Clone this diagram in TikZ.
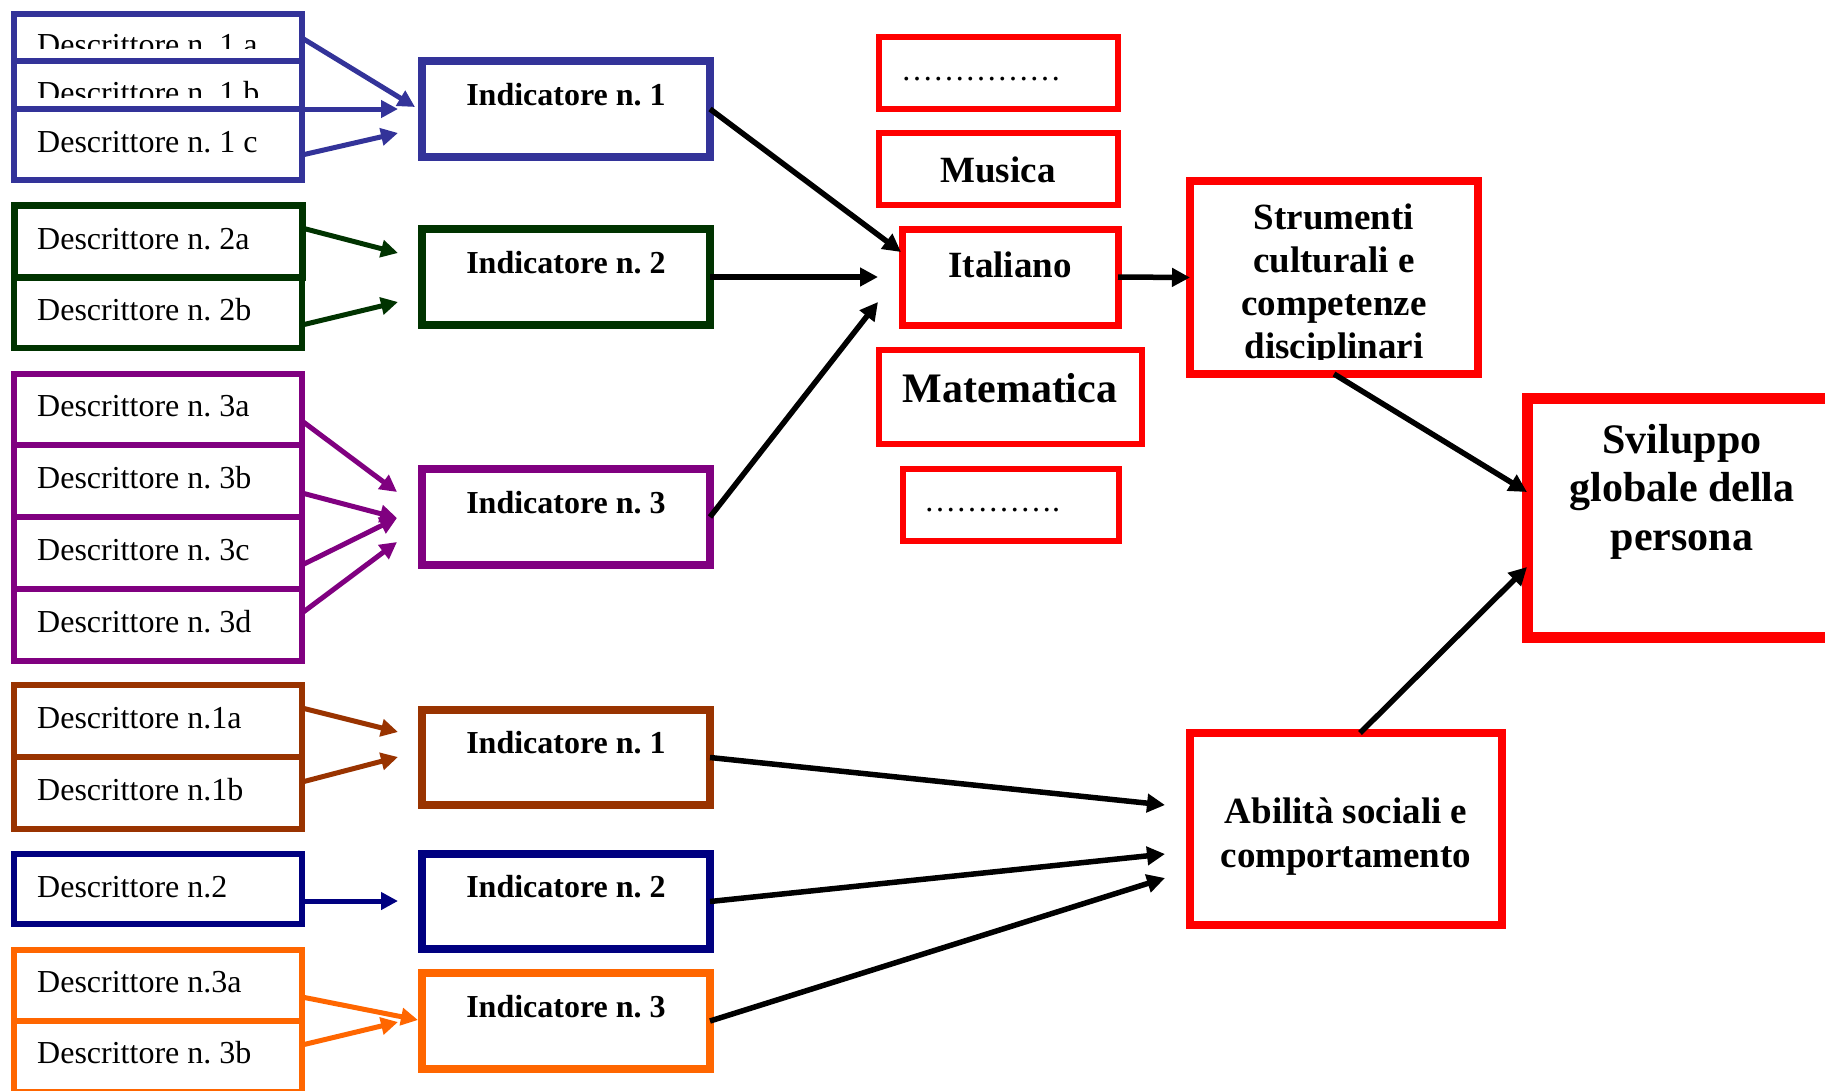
\documentclass[tikz,border=0pt]{standalone}
\usepackage{fontspec}
\setmainfont{Liberation Serif}
\usetikzlibrary{arrows.meta}
\frenchspacing
\definecolor{cblue}{RGB}{51,51,153}
\definecolor{cgreen}{RGB}{0,51,0}
\definecolor{cpurple}{RGB}{128,0,128}
\definecolor{cbrown}{RGB}{153,51,0}
\definecolor{cnavy}{RGB}{0,0,128}
\definecolor{corange}{RGB}{255,102,0}
\definecolor{cred}{RGB}{255,0,0}
\tikzset{
  box/.style={draw, rectangle, inner sep=0pt, outer sep=0pt, fill=white},
  dbox/.style={box, draw=#1, line width=5.5pt, minimum width=288pt},
  ibox/.style={box, draw=#1, line width=8pt, minimum width=288pt, minimum height=96pt},
  rbox/.style={box, draw=cred, line width=6pt},
  dtext/.style={anchor=base west, inner sep=0pt, font=\fontsize{32}{38}\selectfont},
  itext/.style={anchor=base, inner sep=0pt, font=\fontsize{32}{38}\selectfont\bfseries},
  rtext/.style={anchor=base, inner sep=0pt, font=\fontsize{#1}{#1}\selectfont\bfseries},
  mtext/.style={anchor=base, inner sep=0pt},
  carr/.style={draw=#1, line width=5pt, -{Triangle[length=17pt,width=17pt]}},
  barr/.style={draw=black, line width=5.5pt, -{Triangle[length=18pt,width=18pt]}}
}
\begin{document}
\begin{tikzpicture}[x=1pt,y=-1pt]
\clip (0,0) rectangle (1825,1090);
\fill[white] (0,0) rectangle (1825,1090);

% ---- blue descriptors
\node[dbox=cblue, minimum height=47pt] (d1a) at (158,37.5) {};
\node[dbox=cblue, minimum height=48pt] (d1b) at (158,85) {};
\node[dbox=cblue, minimum height=71pt] (d1c) at (158,144.5) {};
\begin{scope}
\clip (14,14) rectangle (302,48);
\node[dtext] (t1a) at (37,55) {Descrittore n. 1 a};
\end{scope}
\begin{scope}
\clip (14,61) rectangle (302,97);
\node[dtext] (t1b) at (37,103) {Descrittore n. 1 b};
\end{scope}
\node[dtext] (t1c) at (37,152) {Descrittore n. 1 c};

% ---- green descriptors
\node[dbox=cgreen, minimum height=71pt] (d2b) at (158,312.5) {};
\node[dbox=cgreen, line width=7pt, minimum height=72pt] (d2a) at (158,241) {};
\node[dtext] (t2a) at (37,249) {Descrittore n. 2a};
\node[dtext] (t2b) at (37,320) {Descrittore n. 2b};

% ---- purple descriptors
\node[dbox=cpurple, line width=6pt, minimum height=71pt] (d3a) at (158,409.5) {};
\node[dbox=cpurple, line width=6pt, minimum height=72pt] (d3b) at (158,481) {};
\node[dbox=cpurple, line width=6pt, minimum height=72pt] (d3c) at (158,553) {};
\node[dbox=cpurple, line width=6pt, minimum height=72pt] (d3d) at (158,625) {};
\node[dtext] (t3a) at (37,416) {Descrittore n. 3a};
\node[dtext] (t3b) at (37,488) {Descrittore n. 3b};
\node[dtext] (t3c) at (37,560) {Descrittore n. 3c};
\node[dtext] (t3d) at (37,632) {Descrittore n. 3d};

% ---- brown descriptors
\node[dbox=cbrown, line width=6pt, minimum height=72pt] (d4a) at (158,721) {};
\node[dbox=cbrown, line width=6pt, minimum height=72pt] (d4b) at (158,793) {};
\node[dtext] (t4a) at (37,728) {Descrittore n.1a};
\node[dtext] (t4b) at (37,800) {Descrittore n.1b};

% ---- navy descriptor
\node[dbox=cnavy, line width=6pt, minimum height=70pt] (d5) at (158,889) {};
\node[dtext] (t5) at (37,897) {Descrittore n.2};

% ---- orange descriptors
\node[dbox=corange, line width=6pt, minimum height=71pt] (d6a) at (158,985.5) {};
\node[dbox=corange, line width=6pt, minimum height=71pt] (d6b) at (158,1056.5) {};
\node[dtext] (t6a) at (37,992) {Descrittore n.3a};
\node[dtext] (t6b) at (37,1063) {Descrittore n. 3b};

% ---- indicators
\node[ibox=cblue] (ib1) at (566,109) {};
\node[ibox=cgreen] (ig2) at (566,277) {};
\node[ibox=cpurple] (ip3) at (566,517) {};
\node[ibox=cbrown, minimum height=95pt] (ir1) at (566,757.5) {};
\node[ibox=cnavy, minimum height=95pt] (in2) at (566,901.5) {};
\node[ibox=corange] (io3) at (566,1021) {};
\node[itext] (tib1) at (566,105) {Indicatore n. 1};
\node[itext] (tig2) at (566,273) {Indicatore n. 2};
\node[itext] (tip3) at (566,513) {Indicatore n. 3};
\node[itext] (tir1) at (566,753) {Indicatore n. 1};
\node[itext] (tin2) at (566,897) {Indicatore n. 2};
\node[itext] (tio3) at (566,1017) {Indicatore n. 3};

% ---- subjects
\node[rbox, minimum width=239pt, minimum height=72pt] (dots1) at (998.5,73) {};
\node[rbox, minimum width=239pt, minimum height=72pt] (musica) at (998.5,169) {};
\node[rbox, line width=7pt, minimum width=216pt, minimum height=96pt] (ital) at (1010,277) {};
\node[rbox, minimum width=263pt, minimum height=94pt] (mate) at (1010.5,397) {};
\node[rbox, minimum width=216pt, minimum height=72pt] (dots2) at (1011,505) {};
\node[dtext] (tdots1) at (901,80) {……………};
\node[dtext] (tdots2) at (924,511) {………….};
\node[rtext=37] (tmus) at (998,182) {Musica};
\node[rtext=37] (tital) at (1010,277) {Italiano};
\node[rtext=42] (tmate) at (1010,402) {Matematica};

% ---- right side
\node[rbox, line width=8pt, minimum width=288pt, minimum height=193pt] (strum) at (1334,277.5) {};
\node[rbox, line width=11pt, minimum width=310pt, minimum height=239pt] (svil) at (1682,517.5) {};
\node[rbox, line width=7.5pt, minimum width=312pt, minimum height=192pt] (abil) at (1346,829) {};
\begin{scope}
\clip (1190,181) rectangle (1478,359);
\node[mtext, font=\fontsize{37}{43.3}\selectfont\bfseries] (tstrum) at (1334,229)
  {\begin{tabular}[t]{@{}c@{}}Strumenti\\culturali e\\competenze\\disciplinari\end{tabular}};
\end{scope}
\node[mtext, font=\fontsize{42}{48.5}\selectfont\bfseries] (tsvil) at (1682,453)
  {\begin{tabular}[t]{@{}c@{}}Sviluppo\\globale della\\persona\end{tabular}};
\node[mtext, font=\fontsize{37}{44}\selectfont\bfseries] (tabil) at (1346,823)
  {\begin{tabular}[t]{@{}c@{}}Abilità sociali e\\comportamento\end{tabular}};

% ---- free ends of connectors
\coordinate (e1a) at (415,107);
\coordinate (e1b) at (398,109);
\coordinate (e1c) at (398,133);
\coordinate (e2a) at (398,253);
\coordinate (e2b) at (398,302);
\coordinate (e3a) at (397,492);
\coordinate (e3b) at (397,518);
\coordinate (e3d) at (397,542);
\coordinate (e4a) at (398,732);
\coordinate (e4b) at (398,757);
\coordinate (e5) at (398,901);
\coordinate (e6a) at (418,1020);
\coordinate (e6b) at (398,1022);
\coordinate (fi1) at (901,252);
\coordinate (fi2) at (878,277);
\coordinate (fi3) at (878,302);
\coordinate (fa1) at (1165,805);
\coordinate (fa2) at (1165,854);
\coordinate (fa3) at (1165,878);

% ---- colored connectors
\draw[carr=cblue] (d1a.east |- 0,38) -- (e1a);
\draw[carr=cblue] (d1b.east |- 0,109) -- (e1b);
\draw[carr=cblue] (d1c.east |- 0,155) -- (e1c);
\draw[carr=cgreen] (d2a.east |- 0,228) -- (e2a);
\draw[carr=cgreen] (d2b.east |- 0,325) -- (e2b);
\draw[carr=cpurple] (d3a.east |- 0,421) -- (e3a);
\draw[carr=cpurple] (d3b.east |- 0,493) -- (e3b);
\draw[carr=cpurple] (d3c.east |- 0,565) -- (e3b);
\draw[carr=cpurple] (d3d.east |- 0,613) -- (e3d);
\draw[carr=cbrown] (d4a.east |- 0,708) -- (e4a);
\draw[carr=cbrown] (d4b.east |- 0,782) -- (e4b);
\draw[carr=cnavy] (d5.east |- 0,901) -- (e5);
\draw[carr=corange] (d6a.east |- 0,997) -- (e6a);
\draw[carr=corange] (d6b.east |- 0,1045) -- (e6b);

% ---- black connectors
\draw[barr] (ib1.east) -- (fi1);
\draw[barr] (ig2.east) -- (fi2);
\draw[barr] (ip3.east) -- (fi3);
\draw[barr] (ital.east) -- (strum.west);
\draw[barr] (strum.south) -- (svil.west |- 0,492);
\draw[barr] (1360,0 |- abil.north) -- (svil.west |- 0,567);
\draw[barr] (ir1.east) -- (fa1);
\draw[barr] (in2.east) -- (fa2);
\draw[barr] (io3.east) -- (fa3);
\end{tikzpicture}
\end{document}
